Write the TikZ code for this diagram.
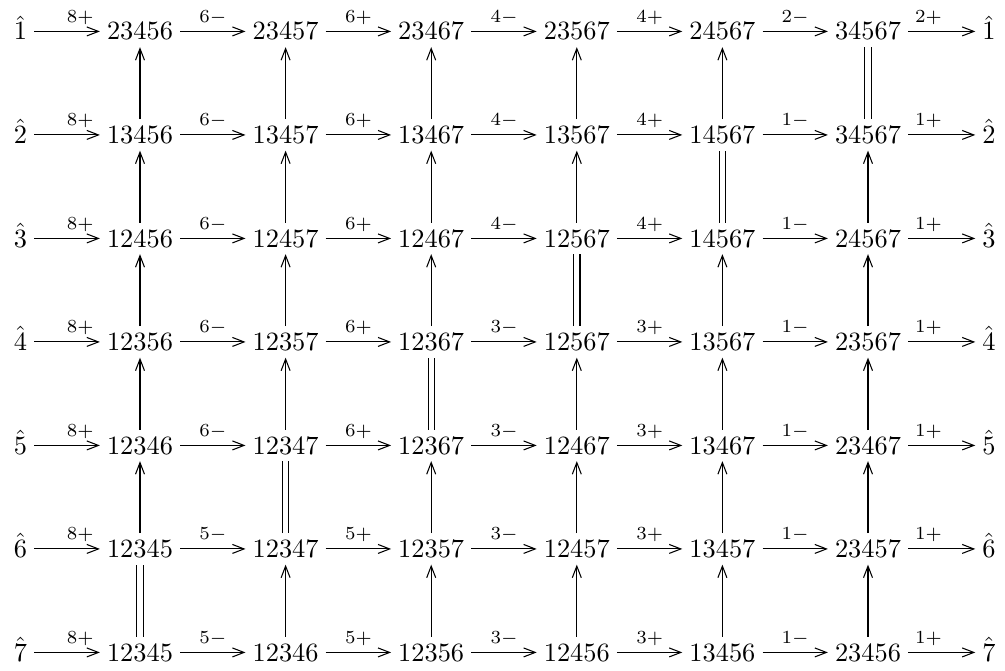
\documentclass[tikz,border=0pt]{standalone}
\usetikzlibrary{arrows.meta}
\newcommand\colx[1]{\ifcase#1 20.5\or 140\or 285.6\or 431.2\or 576.8\or 722.4\or 868\or 989\fi}
\newcommand\noderow[9]{%
  \node[cell] (n#1-0) at (\colx{0},{40+103.5*(#1-1)}) {$\hat{#2}$};
  \node[cell] (n#1-1) at (\colx{1},{40+103.5*(#1-1)}) {$#3$};
  \node[cell] (n#1-2) at (\colx{2},{40+103.5*(#1-1)}) {$#4$};
  \node[cell] (n#1-3) at (\colx{3},{40+103.5*(#1-1)}) {$#5$};
  \node[cell] (n#1-4) at (\colx{4},{40+103.5*(#1-1)}) {$#6$};
  \node[cell] (n#1-5) at (\colx{5},{40+103.5*(#1-1)}) {$#7$};
  \node[cell] (n#1-6) at (\colx{6},{40+103.5*(#1-1)}) {$#8$};
  \node[cell] (n#1-7) at (\colx{7},{40+103.5*(#1-1)}) {$\hat{#9}$};
}
\newcommand\harr[3]{%
  \pgfmathtruncatemacro\mynextc{#2+1}%
  \draw[arr] (n#1-#2) -- (n#1-\mynextc);
  \path (n#1-#2.center) -- node[lbl] {$#3$} (n#1-\mynextc.center);
}
\newcommand\arrowrow[8]{%
  \harr{#1}{0}{#2}\harr{#1}{1}{#3}\harr{#1}{2}{#4}\harr{#1}{3}{#5}%
  \harr{#1}{4}{#6}\harr{#1}{5}{#7}\harr{#1}{6}{#8}%
}
\newcommand\varr[2]{%
  \pgfmathtruncatemacro\mynextr{#1+1}%
  \draw[arr] (n\mynextr-#2) -- (n#1-#2);
}
\newcommand\veq[2]{%
  \pgfmathtruncatemacro\mynextr{#1+1}%
  \draw[eqline] (n\mynextr-#2) -- (n#1-#2);
}
\begin{document}
\begin{tikzpicture}[x=0.379pt,y=-0.379pt,
  cell/.style={anchor=base, inner xsep=2.5pt, inner ysep=0pt, text height=9pt, text depth=2.5pt},
  arr/.style={-{Straight Barb[length=4.4pt, width=3.4pt]}, line width=0.4pt},
  eqline/.style={double, double distance=2pt, line width=0.4pt},
  lbl/.style={font=\scriptsize, anchor=base, inner sep=0pt, yshift=3.5pt}]
\useasboundingbox (0,0) rectangle (1005,670);
\noderow{1}{1}{23456}{23457}{23467}{23567}{24567}{34567}{1}
\noderow{2}{2}{13456}{13457}{13467}{13567}{14567}{34567}{2}
\noderow{3}{3}{12456}{12457}{12467}{12567}{14567}{24567}{3}
\noderow{4}{4}{12356}{12357}{12367}{12567}{13567}{23567}{4}
\noderow{5}{5}{12346}{12347}{12367}{12467}{13467}{23467}{5}
\noderow{6}{6}{12345}{12347}{12357}{12457}{13457}{23457}{6}
\noderow{7}{7}{12345}{12346}{12356}{12456}{13456}{23456}{7}
\arrowrow{1}{8+}{6-}{6+}{4-}{4+}{2-}{2+}
\arrowrow{2}{8+}{6-}{6+}{4-}{4+}{1-}{1+}
\arrowrow{3}{8+}{6-}{6+}{4-}{4+}{1-}{1+}
\arrowrow{4}{8+}{6-}{6+}{3-}{3+}{1-}{1+}
\arrowrow{5}{8+}{6-}{6+}{3-}{3+}{1-}{1+}
\arrowrow{6}{8+}{5-}{5+}{3-}{3+}{1-}{1+}
\arrowrow{7}{8+}{5-}{5+}{3-}{3+}{1-}{1+}
% verticals
\varr{1}{1}\varr{1}{2}\varr{1}{3}\varr{1}{4}\varr{1}{5}\veq{1}{6}
\varr{2}{1}\varr{2}{2}\varr{2}{3}\varr{2}{4}\veq{2}{5}\varr{2}{6}
\varr{3}{1}\varr{3}{2}\varr{3}{3}\veq{3}{4}\varr{3}{5}\varr{3}{6}
\varr{4}{1}\varr{4}{2}\veq{4}{3}\varr{4}{4}\varr{4}{5}\varr{4}{6}
\varr{5}{1}\veq{5}{2}\varr{5}{3}\varr{5}{4}\varr{5}{5}\varr{5}{6}
\veq{6}{1}\varr{6}{2}\varr{6}{3}\varr{6}{4}\varr{6}{5}\varr{6}{6}
\end{tikzpicture}
\end{document}
